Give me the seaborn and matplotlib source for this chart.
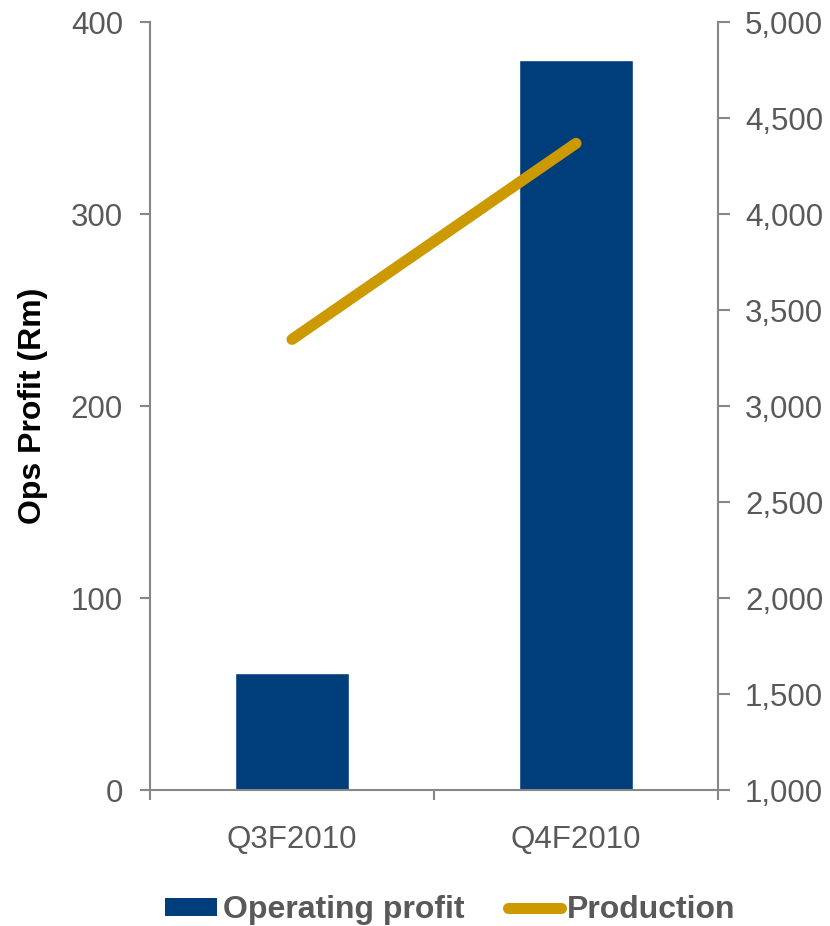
import matplotlib
matplotlib.use("Agg")
import matplotlib.pyplot as plt
from matplotlib.patches import Patch
from matplotlib.lines import Line2D
from matplotlib.ticker import FuncFormatter
import seaborn as sns
import pandas as pd

quarters = ["Q3F2010", "Q4F2010"]
operating_profit = [61, 380]      # Rm
production = [3347, 4368]         # right axis

bar_color = "#003D7B"
line_color = "#CC9A00"
axis_gray = "#878787"
text_gray = "#595959"

sns.set_theme(style="white")
plt.rcParams["font.family"] = ["Liberation Sans", "DejaVu Sans"]

df = pd.DataFrame({"quarter": quarters, "profit": operating_profit,
                   "production": production})

fig = plt.figure(figsize=(8.3, 9.26), dpi=100)
ax = fig.add_axes([150 / 830, 1 - 790 / 926, 568 / 830, 768 / 926])

sns.barplot(data=df, x="quarter", y="profit", color=bar_color,
            width=0.4, saturation=1, ax=ax)
ax.set_xlim(-0.5, 1.5)
ax.set_ylim(0, 400)
ax.set_yticks([0, 100, 200, 300, 400])
ax.set_xticks([-0.5, 0.5, 1.5], minor=False)
ax.set_xticks([0, 1], minor=True)
ax.set_xticklabels([])
ax.set_xticklabels(quarters, minor=True)
ax.tick_params(axis="x", which="major", length=7.5, width=1.5, color=axis_gray,
               direction="out", bottom=True)
ax.tick_params(axis="x", which="minor", length=0, labelsize=22.5,
               labelcolor=text_gray, pad=25)
ax.tick_params(axis="y", length=7.5, width=1.5, color=axis_gray, direction="out",
               left=True, labelsize=22.5, labelcolor=text_gray, pad=12)
ax.set_xlabel("")
ax.set_ylabel("Ops Profit (Rm)", fontsize=23, fontweight="bold", color="black")
ax.yaxis.set_label_coords(-0.18, 0.5)

ax2 = ax.twinx()
sns.lineplot(data=df, x="quarter", y="production", color=line_color,
             linewidth=8, ax=ax2, solid_capstyle="round")
ax2.set_ylim(1000, 5000)
ax2.set_yticks(range(1000, 5001, 500))
ax2.yaxis.set_major_formatter(FuncFormatter(lambda v, p: f"{int(v):,}"))
ax2.tick_params(axis="y", length=8.5, width=1.5, color=axis_gray, direction="out",
                right=True, labelsize=22.5, labelcolor=text_gray, pad=11)
ax2.set_ylabel("")
ax2.set_xlim(-0.5, 1.5)

for a in (ax, ax2):
    a.grid(False)
    a.spines["top"].set_visible(False)
    for s in ("left", "right", "bottom"):
        a.spines[s].set_color(axis_gray)
        a.spines[s].set_linewidth(1.5)
ax.spines["right"].set_visible(False)
ax2.spines["left"].set_visible(False)
ax2.spines["bottom"].set_visible(False)

handles = [Patch(facecolor=bar_color, edgecolor="none"),
           Line2D([0], [0], color=line_color, linewidth=8,
                  solid_capstyle="round")]
leg = fig.legend(handles, ["Operating profit", "Production"],
                 loc="center", bbox_to_anchor=(450 / 830, 1 - 910 / 926),
                 ncol=2, frameon=False, handlelength=1.65, handleheight=0.5,
                 handletextpad=0.19, columnspacing=1.35,
                 prop={"size": 23, "weight": "bold"})
for t in leg.get_texts():
    t.set_color(text_gray)

fig.savefig("out.png", dpi=100)
